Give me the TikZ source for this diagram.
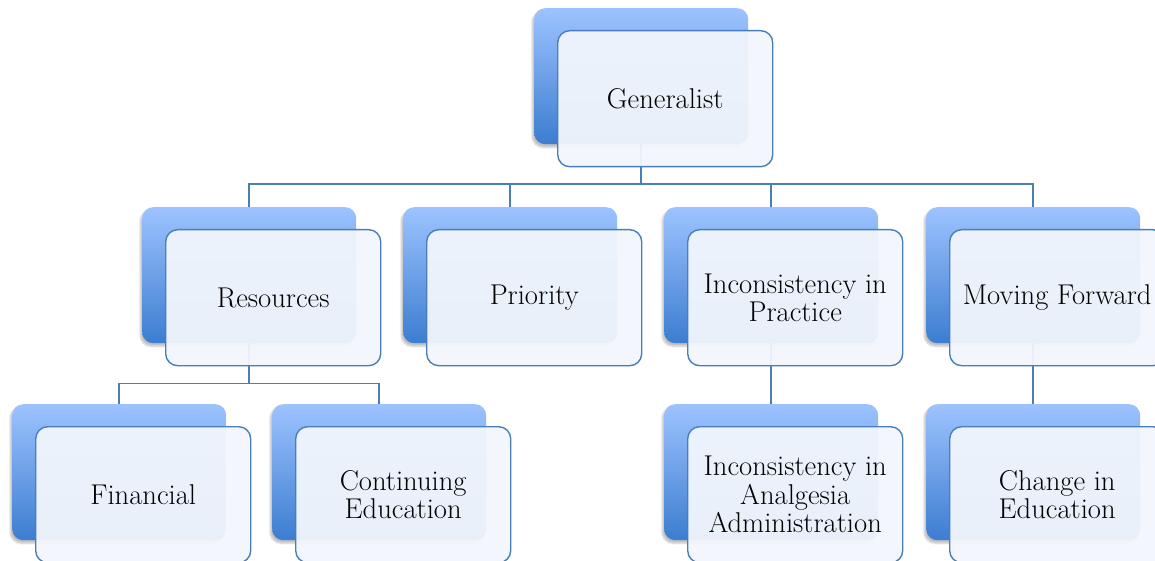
\documentclass[tikz,border=0pt]{standalone}
\usetikzlibrary{shadows.blur,positioning}
\definecolor{linkblue}{RGB}{74,126,187}
\definecolor{backtop}{RGB}{157,195,255}
\definecolor{backbot}{RGB}{60,125,208}
\definecolor{frontfill}{RGB}{242,246,252}
\pgfdeclarelayer{bg}
\pgfsetlayers{bg,main}
\tikzset{
  backbox/.style={rounded corners=11pt, minimum width=214pt, minimum height=136pt,
    top color=backtop, bottom color=backbot, draw=none, anchor=north west, inner sep=0pt,
    blur shadow={shadow xshift=-2pt, shadow yshift=-3pt, shadow blur steps=6, shadow opacity=25}},
  frontbox/.style={rounded corners=12pt, minimum width=215pt, minimum height=136pt,
    fill=frontfill, fill opacity=0.95, text opacity=1,
    draw=linkblue, line width=1.4pt, draw opacity=1, inner sep=0pt, align=center,
    font=\fontsize{28.6}{28.5}\selectfont, text=black},
  link/.style={draw=linkblue, line width=1.8pt}
}
\newcommand{\elem}[4]{%
  \node[backbox] (#1) at (#2,#3) {};
  \node[frontbox, anchor=north west] (#1f) at (#2+23,#3+22) {#4};
}
\begin{document}
\begin{tikzpicture}[x=1pt,y=-1pt]
\useasboundingbox (0,0) rectangle (1155,561);
\clip (0,0) rectangle (1155,561);
\elem{gen}{534}{8}{Generalist}
\elem{res}{142}{207}{Resources}
\elem{pri}{403}{207}{Priority}
\elem{inc}{664}{207}{Inconsistency in\\Practice}
\elem{mov}{926}{207}{Moving Forward}
\elem{fin}{12}{404}{Financial}
\elem{con}{272}{404}{Continuing\\Education}
\elem{ana}{664}{404}{Inconsistency in\\Analgesia\\Administration}
\elem{chg}{926}{404}{Change in\\Education}
\begin{pgfonlayer}{bg}
  \coordinate (gj) at ([yshift=-40pt]gen.south);
  \draw[link] (gen.south) -- (gj) -| (res.north);
  \draw[link] (gj) -| (pri.north);
  \draw[link] (gj) -| (inc.north);
  \draw[link] (gj) -| (mov.north);
  \coordinate (rj) at ([yshift=-40pt]res.south);
  \draw[link] (res.south) -- (rj) -| (fin.north);
  \draw[link] (rj) -| (con.north);
  \draw[link] (inc.south) -- (ana.north);
  \draw[link] (mov.south) -- (chg.north);
\end{pgfonlayer}
\end{tikzpicture}
\end{document}
